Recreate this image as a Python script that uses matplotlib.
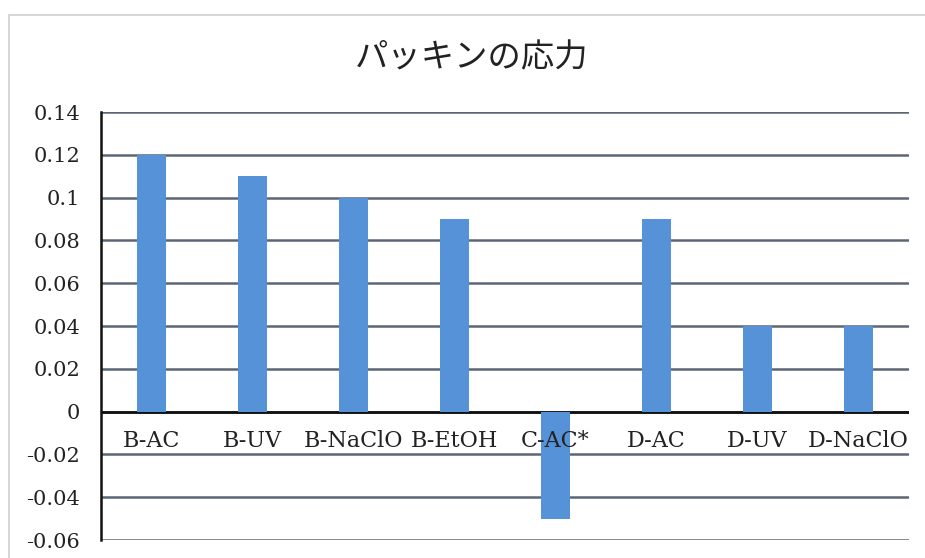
import matplotlib
matplotlib.use("Agg")
import matplotlib.pyplot as plt
from matplotlib.patches import Rectangle

title = "パッキンの応力"
categories = ["B-AC", "B-UV", "B-NaClO", "B-EtOH", "C-AC*", "D-AC", "D-UV", "D-NaClO"]
values = [0.12, 0.11, 0.10, 0.09, -0.05, 0.09, 0.04, 0.04]
yticks = [-0.06, -0.04, -0.02, 0, 0.02, 0.04, 0.06, 0.08, 0.10, 0.12, 0.14]
ytick_labels = ["-0.06", "-0.04", "-0.02", "0", "0.02", "0.04", "0.06", "0.08", "0.1", "0.12", "0.14"]

fig = plt.figure(figsize=(9.25, 5.58), dpi=100)
fig.patch.set_facecolor("white")

# outer chart frame (light grey)
fig.patches.append(Rectangle((9/925, -0.2), 1.2, 1.2 - 15/558, transform=fig.transFigure,
                             fill=False, edgecolor="#cfcfcf", linewidth=1.2, zorder=0))

ax = fig.add_axes([101/925, 1 - 540/558, (909-101)/925, (540-112)/558])
x = list(range(len(categories)))
ax.bar(x, values, width=0.29, color="#5592d8", zorder=3)
ax.set_xlim(-0.5, len(categories) - 0.5)
ax.set_ylim(-0.06, 0.14)
ax.set_yticks(yticks)
ax.set_yticklabels(ytick_labels, fontfamily="DejaVu Serif", fontsize=15, color="#222222")
ax.tick_params(axis="y", length=0, pad=15)
ax.tick_params(axis="x", length=0, bottom=False, labelbottom=False)
ax.yaxis.grid(True, color="#5a6675", linewidth=1.8, zorder=1)
ax.set_axisbelow(True)
for s in ["top", "right", "bottom"]:
    ax.spines[s].set_visible(False)
ax.spines["left"].set_color("#111111")
ax.spines["left"].set_linewidth(1.8)
ax.axhline(0, color="#111111", linewidth=2.0, zorder=2)

for xi, lab in zip(x, categories):
    ax.annotate(lab, xy=(xi, 0), xytext=(0, -21), textcoords="offset points",
                ha="center", va="center", fontfamily="DejaVu Serif", fontsize=16,
                color="#222222", zorder=4)

fig.text(0.51, 1 - 58/558, title, ha="center", va="center",
         fontfamily=["Noto Sans CJK JP", "DejaVu Sans"], fontsize=24, color="#222222")

fig.savefig("out.png", dpi=100)
